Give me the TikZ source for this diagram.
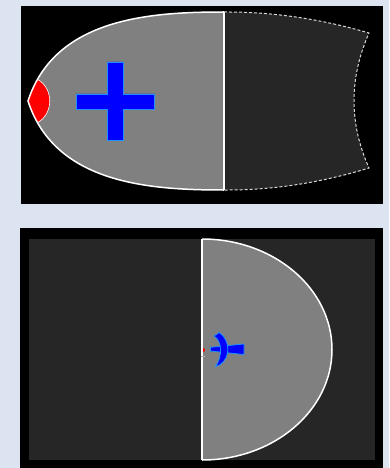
\documentclass[tikz,border=0pt]{standalone}
\definecolor{pagebg}{RGB}{221,228,241}
\definecolor{darkfill}{RGB}{38,38,38}
\definecolor{midgray}{RGB}{128,128,128}
\definecolor{blueedge}{RGB}{30,144,255}
\tikzset{
  outline/.style={draw=white, line width=1.5pt},
  divider/.style={draw=white, line width=2pt},
  dashedge/.style={draw=white!85!black, line width=1pt, dash pattern=on 3pt off 2pt},
  bluepart/.style={fill=blue, draw=blueedge, line width=0.8pt},
}
\begin{document}
\begin{tikzpicture}[x=1pt,y=-1pt]
\useasboundingbox (0,0) rectangle (389,468);
\fill[pagebg] (0,0) rectangle (389,468);
% ---------- top panel ----------
\fill[black] (21,6) rectangle (383,204);
% dark dashed region
\def\darkpath{(224,12) .. controls (271.7,11.7) and (320,18.7) .. (369,33)
  .. controls (349,78.3) and (349,123.3) .. (369,168)
  .. controls (320,183) and (271.7,190.3) .. (224,190)}
\fill[darkfill] \darkpath -- cycle;
\draw[dashedge] \darkpath;
% gray bullet shape
\def\graypath{(224,12) .. controls (150,12) and (55,18) .. (28,101)
  .. controls (55,184) and (150,190) .. (224,190) -- cycle}
\fill[midgray] \graypath;
\begin{scope}
  \clip \graypath;
  \fill[red] (0,60) -- (37,79) .. controls (54,88) and (54,114) .. (37,123) -- (0,140) -- cycle;
  \draw[white, line width=0.6pt] (37,79) .. controls (54,88) and (54,114) .. (37,123);
\end{scope}
\draw[outline] (224,12) .. controls (150,12) and (55,18) .. (28,101)
  .. controls (55,184) and (150,190) .. (224,190);
\draw[divider] (224,12) -- (224,190);
% blue cross
\draw[bluepart] (107,62) -- (123,62) -- (123,94) -- (154,94) -- (154,109) -- (123,109)
  -- (123,140) -- (107,140) -- (107,109) -- (76,109) -- (76,94) -- (107,94) -- cycle;
% ---------- bottom panel ----------
\fill[black] (20,228) rectangle (383,468);
\fill[darkfill] (29,239) rectangle (375,460);
\fill[midgray] (202,239) arc[start angle=-90, end angle=90, x radius=130, y radius=110.5] -- cycle;
\draw[outline] (202,239) arc[start angle=-90, end angle=90, x radius=130, y radius=110.5];
\draw[divider] (202,239) -- (202,460);
\draw[white!70!black, line width=0.5pt] (201,356) -- (205,356);
\fill[red] (203,348) arc[start angle=-90, end angle=90, radius=2] -- cycle;
% blue distorted cross
\draw[bluepart] (210.5,347.3) -- (244,344) -- (244,354.5) -- (210.5,351) -- cycle;
\draw[bluepart] (219.5,332.5) .. controls (230.5,341) and (230.5,357) .. (220.5,364.5)
  -- (215.5,366.5) .. controls (222.5,357) and (222.5,341) .. (214,336) -- cycle;
\end{tikzpicture}
\end{document}
